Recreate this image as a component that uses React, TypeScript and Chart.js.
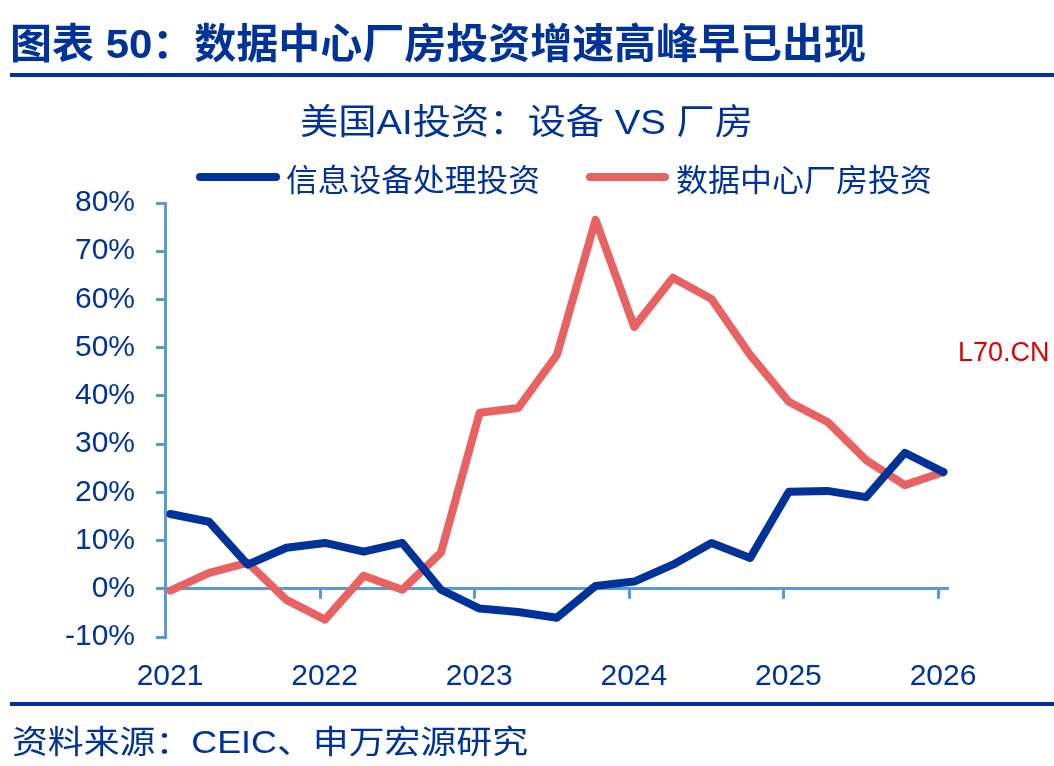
import React, { useEffect, useRef } from "react";
import { Chart, registerables } from "chart.js";

Chart.register(...registerables);

// ---------- data ----------
const quarters = [
  "2021Q1", "2021Q2", "2021Q3", "2021Q4",
  "2022Q1", "2022Q2", "2022Q3", "2022Q4",
  "2023Q1", "2023Q2", "2023Q3", "2023Q4",
  "2024Q1", "2024Q2", "2024Q3", "2024Q4",
  "2025Q1", "2025Q2", "2025Q3", "2025Q4",
  "2026Q1",
];
const equipmentGrowth = [
  15.5, 13.9, 5.0, 8.5, 9.5, 7.7, 9.5, -0.2, -4.1, -4.8, -6.0,
  0.6, 1.5, 5.0, 9.5, 6.4, 20.1, 20.3, 19.0, 28.2, 24.2,
];
const dataCenterGrowth = [
  -0.4, 3.3, 5.4, -2.3, -6.4, 2.7, -0.2, 7.5, 36.5, 37.5, 48.5,
  76.5, 54.3, 64.5, 60.1, 48.5, 38.8, 34.6, 26.7, 21.5, 24.2,
];
const yearTicks = [2021, 2022, 2023, 2024, 2025, 2026];
const yTicks = [-10, 0, 10, 20, 30, 40, 50, 60, 70, 80];
const seriesNames = ["信息设备处理投资", "数据中心厂房投资"];
const headingText = "图表 50：数据中心厂房投资增速高峰早已出现";
const chartTitleText = "美国AI投资：设备 VS 厂房";
const sourceText = "资料来源：CEIC、申万宏源研究";
const watermarkText = "L70.CN";

// ---------- styles ----------
const NAVY = "#003399";
const BLUE_LINE = "#00329A";
const RED_LINE = "#E86262";
const AXIS = "#5B9BD5";
const LATIN = '"Liberation Sans", Arial, sans-serif';
const MIXED = '"Liberation Sans", "Noto Sans CJK SC", sans-serif';
const CJK = '"Noto Sans CJK SC", "Liberation Sans", sans-serif';

const quarterToX = (q: string) => {
  const year = Number(q.slice(0, 4));
  const n = Number(q.slice(5));
  return year + (n - 1) / 4 + 0.035;
};

function drawFit(
  ctx: CanvasRenderingContext2D,
  text: string,
  x: number,
  y: number,
  width: number,
  font: string,
  color: string
) {
  ctx.save();
  ctx.font = font;
  ctx.fillStyle = color;
  ctx.textBaseline = "middle";
  ctx.textAlign = "left";
  const w = ctx.measureText(text).width;
  const s = width / w;
  ctx.translate(x, y);
  ctx.scale(s, 1);
  ctx.fillText(text, 0, 0);
  ctx.restore();
}

const decorPlugin = {
  id: "decor",
  beforeDatasetsDraw(chart: any) {
    const ctx: CanvasRenderingContext2D = chart.ctx;
    const xs = chart.scales.x;
    const ys = chart.scales.y;
    const zeroY = ys.getPixelForValue(0);
    ctx.save();
    ctx.strokeStyle = AXIS;
    ctx.lineWidth = 3;
    yearTicks.slice(1).forEach((v) => {
      const x = Math.round(xs.getPixelForValue(v)) + 0.5;
      ctx.beginPath();
      ctx.moveTo(x, zeroY);
      ctx.lineTo(x, zeroY + 10);
      ctx.stroke();
    });
    ctx.restore();
  },
  afterDraw(chart: any) {
    const ctx: CanvasRenderingContext2D = chart.ctx;
    ctx.save();
    // heading
    drawFit(ctx, headingText, 10, 47, 856, `bold 41px ${MIXED}`, NAVY);
    ctx.fillStyle = NAVY;
    ctx.fillRect(10, 73, 1044, 4);
    // chart title
    drawFit(ctx, chartTitleText, 300, 124, 453, `35px ${MIXED}`, NAVY);
    // legend
    const legend = [
      { color: BLUE_LINE, x1: 196, x2: 280, tx: 286, tw: 254 },
      { color: RED_LINE, x1: 586, x2: 669, tx: 676, tw: 256 },
    ];
    legend.forEach((item, i) => {
      ctx.strokeStyle = item.color;
      ctx.lineWidth = 8;
      ctx.lineCap = "round";
      ctx.beginPath();
      ctx.moveTo(item.x1 + 4, 177);
      ctx.lineTo(item.x2 - 4, 177);
      ctx.stroke();
      drawFit(ctx, seriesNames[i], item.tx, 179, item.tw, `31px ${CJK}`, NAVY);
    });
    // source
    ctx.fillStyle = NAVY;
    ctx.fillRect(10, 702, 1044, 4);
    drawFit(ctx, sourceText, 12, 744, 516, `32px ${MIXED}`, NAVY);
    // watermark
    ctx.font = `27px ${LATIN}`;
    ctx.fillStyle = "#DD0000";
    ctx.textBaseline = "middle";
    ctx.textAlign = "left";
    ctx.fillText(watermarkText, 958, 354);
    ctx.restore();
  },
};

export default function App() {
  const canvasRef = useRef<HTMLCanvasElement | null>(null);

  useEffect(() => {
    const canvas = canvasRef.current;
    if (!canvas) return;
    const chart = new Chart(canvas, {
      type: "line",
      data: {
        datasets: [
          {
            label: seriesNames[0],
            data: quarters.map((q, i) => ({ x: quarterToX(q), y: equipmentGrowth[i] })),
            borderColor: BLUE_LINE,
            backgroundColor: BLUE_LINE,
            borderWidth: 8,
            pointRadius: 0,
            tension: 0,
            borderJoinStyle: "round",
            borderCapStyle: "round",
          },
          {
            label: seriesNames[1],
            data: quarters.map((q, i) => ({ x: quarterToX(q), y: dataCenterGrowth[i] })),
            borderColor: RED_LINE,
            backgroundColor: RED_LINE,
            borderWidth: 8,
            pointRadius: 0,
            tension: 0,
            borderJoinStyle: "round",
            borderCapStyle: "round",
          },
        ],
      },
      options: {
        responsive: false,
        animation: false,
        devicePixelRatio: 1,
        layout: { padding: { top: 203, right: 105, bottom: 0, left: 0 } },
        plugins: {
          legend: { display: false },
          title: { display: false },
          tooltip: { enabled: false },
        },
        scales: {
          x: {
            type: "linear",
            min: 2021,
            max: 2026.071,
            afterFit: (s: any) => {
              s.height = 129;
            },
            afterBuildTicks: (s: any) => {
              s.ticks = yearTicks.map((v) => ({ value: v }));
            },
            border: { display: false },
            grid: { display: false, drawTicks: false },
            ticks: {
              color: NAVY,
              font: { family: LATIN, size: 30 },
              padding: 22,
              labelOffset: 5,
              maxRotation: 0,
              autoSkip: false,
              callback: (v: any) => String(v),
            },
          },
          y: {
            min: -10,
            max: 80,
            afterFit: (s: any) => {
              s.width = 165;
            },
            afterBuildTicks: (s: any) => {
              s.ticks = yTicks.map((v) => ({ value: v }));
            },
            border: { display: true, color: AXIS, width: 3 },
            grid: {
              drawOnChartArea: true,
              drawTicks: true,
              tickLength: 9,
              lineWidth: 3,
              tickColor: AXIS,
              color: (c: any) => (c.tick && c.tick.value === 0 ? AXIS : "rgba(0,0,0,0)"),
            },
            ticks: {
              color: NAVY,
              font: { family: LATIN, size: 30 },
              padding: 21,
              callback: (v: any) => `${v}%`,
            },
          },
        },
      },
      plugins: [decorPlugin],
    });
    return () => chart.destroy();
  }, []);

  return (
    <div style={{ position: "absolute", left: 0, top: 0, width: 1054, height: 766, background: "#fff" }}>
      <canvas ref={canvasRef} width={1054} height={766} style={{ display: "block" }} />
    </div>
  );
}
